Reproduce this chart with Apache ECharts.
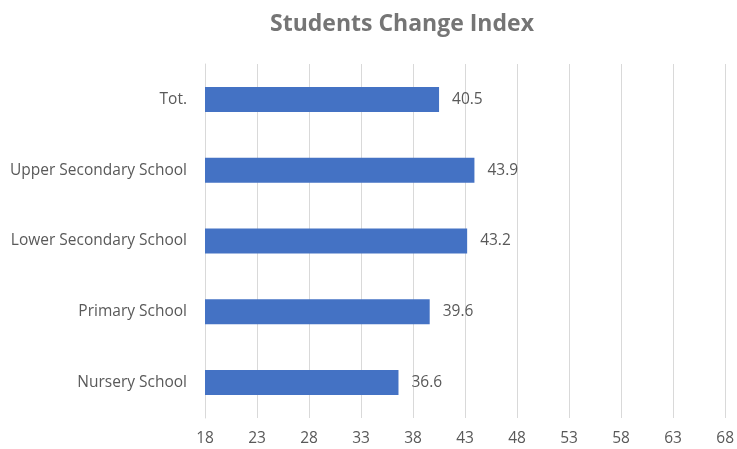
<!DOCTYPE html>
<html>
<head>
<meta charset="utf-8">
<script src="https://cdn.jsdelivr.net/npm/echarts@6/dist/echarts.min.js"></script>
<style>html,body{margin:0;padding:0;background:#fff}#c{width:737px;height:449px}</style>
</head>
<body>
<div id="c"></div>
<script>
const categories = ["Nursery School", "Primary School", "Lower Secondary School", "Upper Secondary School", "Tot."];
const values = [36.6, 39.6, 43.2, 43.9, 40.5];
const xTicks = [18, 23, 28, 33, 38, 43, 48, 53, 58, 63, 68];

const chart = echarts.init(document.getElementById('c'));
chart.setOption({
  animation: false,
  title: {
    text: "Students Change Index",
    left: 265, top: 8,
    textStyle: { fontFamily: "Open Sans", fontWeight: "bold", fontSize: 23, color: "#757575" }
  },
  grid: { left: 205, right: 10, top: 64, bottom: 31, containLabel: false },
  xAxis: {
    type: "value",
    min: xTicks[0], max: xTicks[xTicks.length - 1], interval: 5,
    axisLine: { show: false },
    axisTick: { show: false },
    splitLine: { show: true, lineStyle: { color: "#d9d9d9", width: 1 } },
    axisLabel: { color: "#595959", fontFamily: "Open Sans", fontSize: 15.5, margin: 13 }
  },
  yAxis: {
    type: "category",
    data: categories,
    axisLine: { show: true, lineStyle: { color: "#d9d9d9" } },
    axisTick: { show: false },
    axisLabel: { color: "#595959", fontFamily: "Open Sans", fontSize: 15.5, margin: 18 }
  },
  series: [{
    type: "bar",
    data: values,
    barWidth: 25,
    itemStyle: { color: "#4472c4" },
    label: { show: true, position: "right", distance: 13, color: "#595959", fontFamily: "Open Sans", fontSize: 15.5 }
  }]
});
</script>
</body>
</html>
